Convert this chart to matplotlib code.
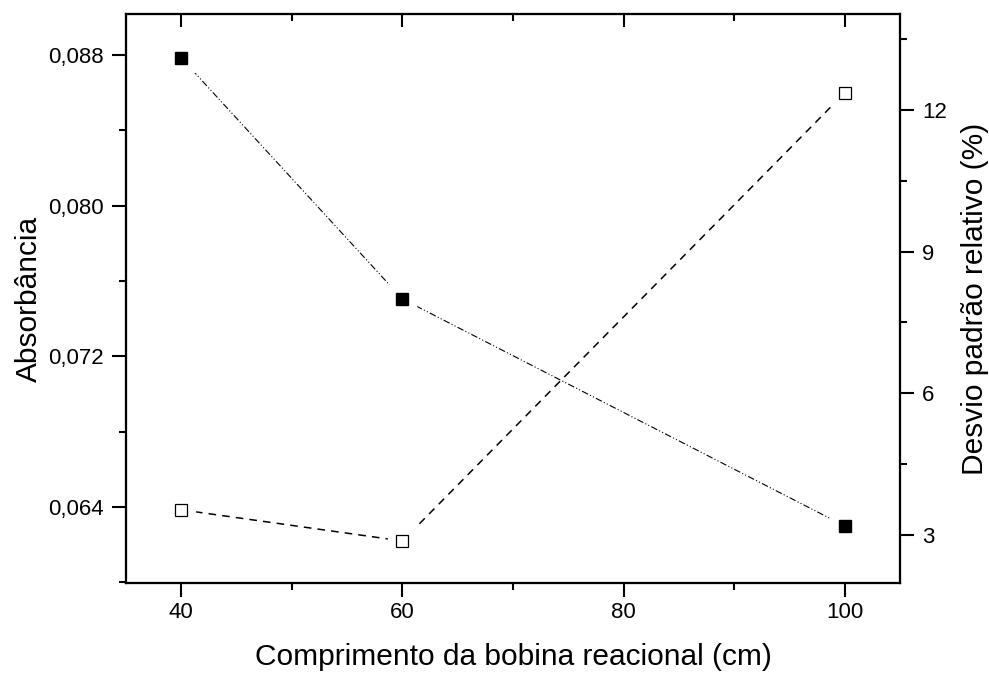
import matplotlib
matplotlib.use("Agg")
import matplotlib.pyplot as plt
from matplotlib.ticker import FuncFormatter, MultipleLocator

plt.rcParams['font.family'] = ['Liberation Sans', 'DejaVu Sans']

comprimento = [40, 60, 100]
absorbancia = [0.08784, 0.07505, 0.0630]
dpr = [3.53, 2.87, 12.36]

fig = plt.figure(figsize=(9.89, 6.73), dpi=100)
ax = fig.add_axes([126/989, 90/673, (900-126)/989, (583-14)/673])
ax2 = ax.twinx()
ax3 = ax.twiny()

# absorbance series
ax.plot(comprimento, absorbancia, color='black', lw=0.8, dashes=[6, 2, 1, 2, 1, 2], zorder=1)
ax.plot(comprimento, absorbancia, ls='none', marker='s', ms=20, mfc='white', mec='white', zorder=2)
ax.plot(comprimento, absorbancia, ls='none', marker='s', ms=9, mfc='black', mec='black', zorder=3)

# RSD series
ax2.plot(comprimento, dpr, color='black', lw=1.1, dashes=[5, 4], zorder=1)
ax2.plot(comprimento, dpr, ls='none', marker='s', ms=20, mfc='white', mec='white', zorder=2)
ax2.plot(comprimento, dpr, ls='none', marker='s', ms=9, mfc='white', mec='black', mew=0.9, zorder=3)

ax.set_xlim(35, 105)
ax3.set_xlim(35, 105)
ax.set_ylim(0.05997, 0.09018)
ax2.set_ylim(1.98, 14.03)

for a in (ax, ax3):
    a.xaxis.set_major_locator(MultipleLocator(20))
    a.xaxis.set_minor_locator(MultipleLocator(10))
ax.yaxis.set_major_locator(MultipleLocator(0.008))
ax.yaxis.set_minor_locator(MultipleLocator(0.004))
ax2.yaxis.set_major_locator(MultipleLocator(3))
ax2.yaxis.set_minor_locator(MultipleLocator(1.5))

ax.yaxis.set_major_formatter(FuncFormatter(lambda v, p: f"{v:.3f}".replace('.', ',')))

for a in (ax, ax2, ax3):
    for s in a.spines.values():
        s.set_linewidth(1.5)

ax.tick_params(axis='x', which='both', direction='out', top=False, labelsize=16, width=1.5, pad=4)
ax.tick_params(axis='x', which='major', length=10)
ax.tick_params(axis='x', which='minor', length=5)
ax3.tick_params(axis='x', which='both', direction='in', top=True, labeltop=False, width=1.5)
ax3.tick_params(axis='x', which='major', length=9)
ax3.tick_params(axis='x', which='minor', length=5)
ax.tick_params(axis='y', which='both', direction='out', right=False, labelsize=16, width=1.5, pad=6)
ax.tick_params(axis='y', which='major', length=10)
ax.tick_params(axis='y', which='minor', length=5)
ax2.tick_params(axis='y', which='both', direction='out', labelsize=16, width=1.5, pad=6)
ax2.tick_params(axis='y', which='major', length=10)
ax2.tick_params(axis='y', which='minor', length=5)

ax.set_xlabel('Comprimento da bobina reacional (cm)', fontsize=21.5, labelpad=14)
ax.set_ylabel('Absorbância', fontsize=21.5, labelpad=4)
ax2.set_ylabel('Desvio padrão relativo (%)', fontsize=21.5, labelpad=10)

fig.savefig('out.png', dpi=100)
